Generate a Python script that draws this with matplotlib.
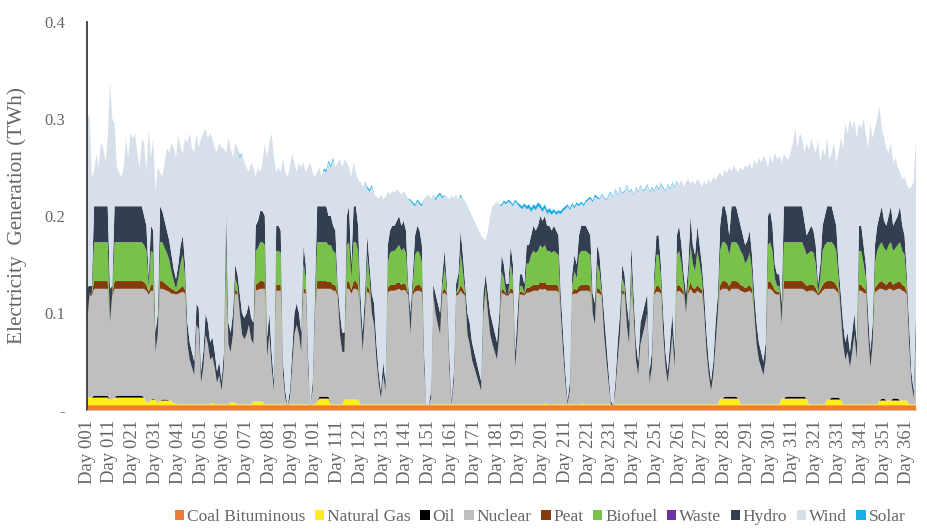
import numpy as np
import matplotlib
matplotlib.use("Agg")
import matplotlib.pyplot as plt
from matplotlib.patches import Patch

plt.rcParams["font.family"] = ["Liberation Serif", "DejaVu Serif"]

# Daily generation by source, in GWh (1/1000 TWh), days 1..365
coal = [5] * 365

gas = [
    8, 8, 8, 8, 8, 8, 8, 8, 8, 8,  6, 6, 8, 8, 8, 8, 8, 8, 8, 8,
    8, 8, 8, 8, 8, 8, 3, 3, 6, 6,  6, 2, 5, 5, 5, 5, 5, 5, 2, 2,
    1, 1, 1, 1, 1, 1, 1, 1, 1, 1,  1, 1, 1, 1, 1, 3, 1, 1, 1, 1,
    1, 1, 1, 3, 3, 3, 1, 1, 1, 1,  1, 1, 1, 4, 4, 4, 4, 4, 1, 1,
    1, 1, 1, 1, 1, 1, 1, 1, 0, 1,  1, 1, 1, 1, 1, 1, 1, 1, 0, 1,
    1, 4, 7, 7, 7, 7, 7, 1, 1, 1,  1, 1, 1, 6, 6, 6, 6, 6, 6, 6,
    1, 1, 1, 1, 1, 1, 1, 1, 1, 1,  1, 1, 1, 1, 1, 1, 1, 1, 1, 1,
    1, 1, 1, 1, 1, 1, 1, 1, 1, 0,  0, 1, 1, 1, 1, 1, 1, 1, 1, 1,
    1, 1, 1, 1, 1, 1, 1, 1, 1, 1,  1, 1, 1, 1, 1, 1, 1, 1, 1, 1,
    1, 1, 1, 1, 1, 1, 1, 1, 1, 1,  1, 1, 1, 1, 1, 1, 1, 1, 1, 1,
    1, 2, 1, 1, 1, 1, 1, 1, 1, 1,  1, 1, 1, 1, 1, 1, 1, 1, 2, 1,
    1, 1, 1, 1, 1, 1, 1, 1, 1, 1,  1, 0, 1, 1, 1, 1, 1, 1, 1, 1,
    1, 1, 1, 1, 1, 1, 1, 1, 1, 1,  1, 1, 1, 1, 1, 1, 1, 1, 1, 1,
    1, 1, 1, 1, 1, 1, 1, 1, 1, 1,  1, 1, 1, 1, 1, 1, 1, 1, 7, 7,
    7, 7, 7, 7, 7, 7, 7, 1, 1, 1,  1, 1, 1, 1, 1, 1, 1, 1, 1, 1,
    1, 1, 1, 1, 1, 7, 7, 7, 7, 7,  7, 7, 7, 7, 7, 7, 7, 1, 1, 1,
    1, 1, 1, 1, 1, 6, 6, 6, 6, 6,  6, 6, 1, 1, 1, 1, 1, 1, 1, 1,
    1, 1, 1, 1, 1, 1, 1, 1, 5, 5,  5, 5, 5, 5, 5, 5, 5, 5, 5, 5,
    5, 1, 1, 1, 1,
]

oil_days = [4, 5, 6, 7, 8, 9, 10, 14, 15, 16, 17, 18, 19, 20, 21, 22, 23, 24, 25,
            30, 34, 35, 36, 103, 104, 105, 106, 107, 281, 282, 283, 284, 285, 286,
            308, 309, 310, 311, 312, 313, 314, 315, 316, 328, 329, 330, 331,
            350, 351, 355, 356, 357]
oil_vals = [2, 2, 2, 2, 2, 2, 2, 2, 2, 2, 2, 2, 2, 2, 2, 2, 2, 2, 2,
            1, 1, 1, 1, 2, 2, 2, 2, 2, 2, 2, 2, 2, 2, 2,
            2, 2, 2, 2, 2, 2, 2, 2, 2, 2, 2, 2, 2,
            2, 2, 2, 2, 2]

nuclear = [
    77, 105, 105, 110, 110, 110, 110, 110, 110, 110,  79, 107, 112, 110, 110, 110, 110, 110, 110, 110,
    110, 110, 110, 110, 110, 112, 115, 111, 112, 111,  49, 71, 115, 114, 113, 112, 112, 110, 113, 112,
    114, 115, 116, 114, 62, 46, 38, 30, 82, 77,  22, 38, 72, 62, 46, 47, 38, 22, 30, 14,
    38, 119, 62, 52, 70, 112, 113, 94, 72, 67,  72, 82, 67, 59, 114, 115, 116, 116, 119, 49,
    72, 38, 14, 117, 117, 117, 30, 6, 0, 6,  38, 72, 82, 72, 54, 115, 114, 38, 0, 14,
    94, 116, 111, 111, 111, 111, 111, 119, 117, 117,  112, 72, 54, 49, 114, 114, 109, 114, 114, 112,
    94, 54, 94, 116, 114, 94, 82, 46, 22, 6,  30, 14, 115, 117, 117, 117, 118, 119, 117, 118,
    117, 112, 72, 113, 116, 117, 117, 115, 38, 0,  0, 6, 112, 94, 82, 72, 113, 115, 112, 38,
    0, 22, 112, 113, 117, 114, 112, 72, 62, 46,  38, 30, 22, 14, 94, 113, 94, 72, 62, 54,
    46, 72, 114, 114, 112, 112, 115, 114, 38, 72,  113, 113, 112, 115, 115, 116, 117, 117, 117, 119,
    118, 118, 117, 117, 117, 117, 117, 116, 94, 54,  22, 0, 14, 113, 114, 114, 116, 117, 116, 117,
    117, 116, 94, 82, 115, 114, 112, 72, 46, 22,  0, 0, 14, 46, 72, 114, 113, 82, 62, 115,
    94, 46, 30, 62, 72, 82, 94, 22, 38, 113,  116, 116, 114, 72, 38, 22, 46, 72, 38, 116,
    117, 115, 113, 94, 114, 119, 115, 114, 117, 115,  114, 94, 54, 30, 14, 30, 62, 94, 111, 113,
    111, 111, 108, 111, 111, 111, 113, 117, 116, 115,  116, 117, 114, 94, 62, 46, 38, 30, 46, 119,
    119, 117, 114, 113, 113, 76, 113, 111, 111, 111,  111, 111, 111, 111, 111, 110, 110, 117, 117, 117,
    115, 112, 114, 117, 119, 114, 114, 112, 112, 110,  107, 89, 62, 46, 54, 38, 54, 72, 46, 117,
    117, 115, 114, 72, 38, 62, 115, 117, 115, 113,  112, 113, 115, 115, 111, 112, 113, 115, 113, 112,
    109, 62, 22, 6, 72,
]

peat = [
    0, 2, 2, 8, 8, 8, 8, 8, 8, 8,  0, 2, 8, 8, 8, 8, 8, 8, 8, 8,
    8, 8, 8, 8, 8, 7, 6, 3, 6, 6,  0, 0, 8, 8, 7, 6, 5, 5, 4, 3,
    4, 5, 6, 4, 0, 0, 0, 0, 0, 0,  0, 0, 0, 0, 0, 0, 0, 0, 0, 0,
    0, 8, 0, 0, 0, 4, 3, 0, 0, 0,  0, 0, 0, 0, 6, 7, 8, 8, 7, 0,
    0, 0, 0, 6, 6, 6, 0, 0, 0, 0,  0, 0, 0, 0, 0, 5, 4, 0, 0, 0,
    0, 8, 8, 8, 8, 8, 7, 7, 6, 6,  2, 0, 0, 0, 7, 8, 4, 8, 8, 6,
    0, 0, 0, 6, 4, 0, 0, 0, 0, 0,  0, 0, 5, 6, 6, 6, 7, 7, 6, 7,
    6, 2, 0, 3, 6, 6, 6, 5, 0, 0,  0, 0, 2, 0, 0, 0, 3, 5, 2, 0,
    0, 0, 2, 3, 6, 5, 2, 0, 0, 0,  0, 0, 0, 0, 0, 3, 0, 0, 0, 0,
    0, 0, 5, 4, 2, 2, 5, 4, 0, 0,  3, 3, 2, 5, 5, 6, 6, 6, 6, 7,
    7, 7, 6, 6, 6, 6, 6, 6, 0, 0,  0, 0, 0, 3, 5, 4, 6, 6, 6, 6,
    6, 6, 0, 0, 5, 5, 2, 0, 0, 0,  0, 0, 0, 0, 0, 4, 3, 0, 0, 5,
    0, 0, 0, 0, 0, 0, 0, 0, 0, 3,  6, 6, 4, 0, 0, 0, 0, 0, 0, 6,
    6, 5, 3, 0, 4, 7, 5, 5, 6, 5,  4, 0, 0, 0, 0, 0, 0, 0, 6, 8,
    8, 7, 6, 8, 8, 8, 7, 6, 6, 5,  5, 6, 5, 0, 0, 0, 0, 0, 0, 7,
    8, 6, 4, 3, 3, 0, 8, 8, 8, 8,  8, 8, 8, 8, 8, 7, 6, 6, 6, 6,
    5, 2, 4, 6, 7, 8, 8, 8, 7, 6,  4, 0, 0, 0, 0, 0, 0, 0, 0, 6,
    6, 5, 4, 0, 0, 0, 5, 6, 7, 8,  7, 6, 7, 8, 6, 7, 7, 8, 6, 6,
    3, 0, 0, 0, 0,
]

biofuel = [
    0, 0, 0, 40, 40, 40, 40, 40, 40, 40,  0, 0, 40, 40, 40, 40, 40, 40, 40, 40,
    40, 40, 40, 40, 40, 38, 35, 5, 35, 33,  0, 0, 40, 40, 36, 33, 28, 18, 9, 3,
    12, 25, 32, 12, 0, 0, 0, 0, 0, 0,  0, 0, 0, 0, 0, 0, 0, 0, 0, 0,
    0, 40, 0, 0, 0, 12, 6, 0, 0, 0,  0, 0, 0, 0, 35, 36, 40, 40, 38, 0,
    0, 0, 0, 35, 35, 33, 0, 0, 0, 0,  0, 0, 0, 0, 0, 25, 12, 0, 0, 0,
    0, 40, 40, 40, 40, 40, 38, 38, 35, 33,  0, 0, 0, 0, 38, 40, 12, 40, 40, 35,
    0, 0, 0, 32, 12, 0, 0, 0, 0, 0,  0, 0, 25, 33, 35, 35, 36, 38, 35, 36,
    33, 0, 0, 6, 32, 35, 33, 25, 0, 0,  0, 0, 0, 0, 0, 0, 6, 22, 0, 0,
    0, 0, 0, 6, 33, 18, 0, 0, 0, 0,  0, 0, 0, 0, 0, 6, 0, 0, 0, 0,
    0, 0, 18, 12, 0, 0, 25, 12, 0, 0,  6, 6, 0, 25, 25, 32, 35, 33, 35, 38,
    36, 38, 35, 35, 33, 35, 33, 32, 0, 0,  0, 0, 0, 6, 18, 12, 32, 35, 35, 35,
    33, 32, 0, 0, 25, 18, 0, 0, 0, 0,  0, 0, 0, 0, 0, 12, 6, 0, 0, 25,
    0, 0, 0, 0, 0, 0, 0, 0, 0, 6,  32, 32, 12, 0, 0, 0, 0, 0, 0, 32,
    35, 25, 6, 0, 12, 38, 25, 18, 35, 25,  12, 0, 0, 0, 0, 0, 0, 0, 35, 40,
    40, 38, 32, 40, 40, 40, 38, 35, 32, 25,  28, 33, 18, 0, 0, 0, 0, 0, 0, 38,
    40, 35, 12, 6, 6, 0, 40, 40, 40, 40,  40, 40, 40, 40, 40, 36, 32, 33, 35, 33,
    25, 0, 12, 35, 38, 40, 40, 40, 38, 35,  12, 0, 0, 0, 0, 0, 0, 0, 0, 35,
    35, 25, 12, 0, 0, 0, 25, 35, 38, 40,  36, 35, 38, 40, 35, 36, 38, 40, 35, 32,
    6, 0, 0, 0, 0,
]

waste = [0] * 365

hydro = [
    37, 8, 8, 37, 37, 37, 37, 37, 37, 37,  35, 8, 37, 37, 37, 37, 37, 37, 37, 37,
    37, 37, 37, 37, 37, 30, 26, 10, 26, 23,  20, 22, 37, 32, 28, 23, 20, 17, 12, 10,
    14, 19, 20, 14, 22, 18, 16, 14, 22, 22,  12, 16, 22, 22, 18, 20, 16, 12, 14, 10,
    16, 34, 22, 20, 22, 14, 12, 20, 22, 22,  22, 22, 22, 22, 26, 28, 32, 32, 30, 20,
    22, 16, 10, 26, 26, 23, 14, 8, 0, 8,  16, 22, 22, 22, 20, 19, 14, 16, 0, 10,
    20, 37, 37, 37, 37, 37, 30, 30, 26, 23,  10, 22, 20, 20, 30, 37, 14, 37, 37, 26,
    20, 20, 20, 20, 14, 20, 22, 18, 12, 8,  14, 10, 19, 23, 26, 26, 28, 30, 26, 28,
    23, 10, 22, 12, 20, 26, 23, 19, 16, 0,  0, 8, 10, 20, 22, 22, 12, 17, 10, 16,
    4, 12, 10, 12, 23, 17, 10, 22, 22, 18,  16, 14, 12, 10, 20, 12, 20, 22, 22, 20,
    18, 22, 17, 14, 10, 10, 19, 14, 16, 22,  12, 12, 10, 19, 19, 20, 26, 23, 26, 30,
    28, 30, 26, 26, 23, 26, 23, 20, 20, 20,  12, 4, 10, 12, 17, 14, 20, 26, 26, 26,
    23, 20, 20, 22, 19, 17, 10, 22, 18, 12,  4, 0, 10, 18, 22, 14, 12, 22, 22, 19,
    20, 18, 14, 22, 22, 22, 20, 12, 16, 12,  20, 20, 14, 22, 16, 12, 18, 22, 16, 20,
    26, 19, 12, 20, 14, 30, 19, 17, 26, 19,  14, 20, 20, 14, 10, 14, 22, 20, 26, 37,
    37, 30, 20, 37, 37, 37, 30, 26, 20, 19,  20, 23, 17, 20, 22, 18, 16, 14, 18, 30,
    32, 26, 14, 12, 12, 22, 37, 37, 37, 37,  37, 37, 37, 37, 37, 28, 20, 23, 26, 23,
    19, 10, 14, 26, 30, 37, 37, 37, 30, 26,  14, 20, 22, 18, 20, 16, 20, 22, 18, 26,
    26, 19, 14, 22, 16, 22, 19, 26, 30, 37,  28, 26, 30, 37, 26, 28, 30, 37, 26, 20,
    12, 22, 12, 8, 22,
]

wind = [
    173, 177, 112, 35, 55, 40, 65, 60, 45, 70,  213, 172, 85, 40, 35, 30, 40, 70, 50, 75,
    70, 75, 55, 40, 70, 75, 55, 153, 70, 95,  145, 150, 35, 35, 60, 85, 90, 115, 125, 125,
    135, 100, 85, 130, 185, 215, 210, 215, 175, 165,  240, 225, 190, 190, 215, 205, 210, 225, 225, 240,
    210, 58, 190, 190, 160, 125, 130, 140, 165, 160,  150, 135, 160, 160, 50, 55, 40, 50, 75, 185,
    175, 225, 230, 55, 60, 60, 210, 225, 235, 230,  204, 155, 135, 155, 170, 85, 95, 190, 250, 215,
    120, 35, 40, 30, 37, 35, 55, 50, 68, 65,  125, 158, 170, 178, 55, 40, 90, 45, 35, 47,
    115, 150, 116, 48, 75, 110, 112, 150, 178, 202,  167, 190, 55, 37, 36, 34, 33, 25, 32, 31,
    37, 88, 115, 72, 30, 25, 27, 40, 158, 215,  217, 198, 92, 96, 110, 122, 78, 57, 90, 157,
    211, 178, 92, 76, 35, 58, 85, 110, 115, 130,  135, 140, 145, 150, 57, 35, 65, 100, 120, 132,
    145, 112, 50, 64, 82, 85, 43, 60, 155, 112,  69, 67, 80, 37, 38, 24, 18, 21, 20, 8,
    9, 8, 12, 14, 16, 14, 16, 23, 82, 125,  167, 200, 176, 71, 48, 62, 30, 23, 20, 24,
    31, 38, 94, 110, 48, 57, 92, 119, 146, 181,  214, 214, 197, 151, 129, 73, 85, 121, 134, 57,
    101, 159, 174, 141, 125, 117, 112, 184, 169, 85,  51, 47, 83, 129, 165, 192, 157, 134, 169, 55,
    42, 67, 90, 115, 88, 33, 66, 72, 48, 65,  80, 116, 152, 188, 204, 190, 147, 122, 55, 30,
    38, 44, 70, 36, 42, 38, 45, 60, 67, 82,  75, 70, 88, 138, 162, 190, 195, 212, 188, 50,
    57, 65, 115, 118, 122, 145, 54, 50, 48, 56,  65, 80, 60, 75, 70, 70, 95, 83, 90, 87,
    95, 148, 105, 80, 62, 70, 48, 55, 75, 65,  115, 160, 180, 225, 205, 240, 210, 198, 210, 105,
    100, 130, 135, 170, 235, 190, 120, 110, 113, 80,  85, 80, 65, 65, 65, 65, 50, 35, 48, 60,
    92, 138, 190, 215, 180,
]

solar = (
    [0] * 60
    + [0, 0, 0, 0, 0, 0, 0, 2, 0, 0]
    + [0] * 30
    + [0, 0, 0, 0, 2, 2, 2, 2, 2, 0]
    + [0] * 10
    + [0, 0, 0, 2, 2, 2, 0, 0, 0, 0]
    + [0] * 10
    + [0, 0, 2, 2, 2, 2, 2, 2, 0, 0]
    + [0, 0, 0, 2, 2, 2, 2, 0, 0, 0]
    + [0, 0, 0, 0, 2, 0, 0, 0, 0, 0]
    + [0] * 10
    + [0, 0, 2, 2, 2, 2, 2, 2, 2, 2]
    + [3, 3, 3, 3, 4, 4, 4, 4, 4, 4]
    + [4, 4, 4, 4, 4, 3, 3, 3, 3, 3]
    + [3, 2, 2, 2, 2, 2, 2, 2, 2, 2]
    + [2, 2, 2, 2, 2, 1, 1, 1, 1, 1]
    + [1] * 30
    + [0] * 105
)

names = ["Coal Bituminous", "Natural Gas", "Oil", "Nuclear", "Peat",
         "Biofuel", "Waste", "Hydro", "Wind", "Solar"]
colors = ["#ED7D31", "#FFEE1A", "#000000", "#BFBFBF", "#843C0C",
          "#78C24A", "#7030A0", "#333F50", "#D6DFEA", "#1AAEEA"]

days = np.arange(1, 366)
oil = np.zeros(365)
oil[np.array(oil_days) - 1] = oil_vals

series = [coal, gas, oil, nuclear, peat, biofuel, waste, hydro, wind, solar]
for s in series:
    assert len(s) == 365
series = [np.asarray(s, dtype=float) / 1000.0 for s in series]  # GWh -> TWh

fig = plt.figure(figsize=(9.28, 5.30), dpi=100)
ax = fig.add_axes([0.094, 0.226, 0.893, 0.733])

ax.stackplot(days, *series, colors=colors, linewidth=0, edgecolor="none")

ax.set_xlim(1, 365)
ax.set_ylim(0, 0.4)

tick_days = days[::10]
ax.set_xticks(tick_days)
ax.set_xticklabels([f"Day {d:03d}" for d in tick_days], rotation=90,
                   fontsize=13.5, color="#666666")
ax.set_yticks([0, 0.1, 0.2, 0.3, 0.4])
ax.set_yticklabels(["-", "0.1", "0.2", "0.3", "0.4"], fontsize=12, color="#666666")
ax.tick_params(axis="x", length=0, pad=7)
ax.tick_params(axis="y", length=0, pad=16)

for side in ["top", "right"]:
    ax.spines[side].set_visible(False)
ax.spines["left"].set_color("#3a3a3a")
ax.spines["left"].set_linewidth(1.3)
ax.spines["bottom"].set_color("#e0c0a8")
ax.spines["bottom"].set_linewidth(0.8)

fig.text(0.018, 0.594, "Electricity  Generation (TWh)", rotation=90,
         ha="center", va="center", fontsize=15.3, color="#666666")

handles = [Patch(facecolor=c, edgecolor="none") for c in colors]
fig.legend(handles, names, loc="center", bbox_to_anchor=(0.582, 0.024), ncol=10,
           frameon=False, fontsize=12.5, labelcolor="#666666",
           handlelength=0.55, handleheight=0.55, handletextpad=0.15,
           columnspacing=0.55, borderaxespad=0)

fig.savefig("out.png", dpi=100)
